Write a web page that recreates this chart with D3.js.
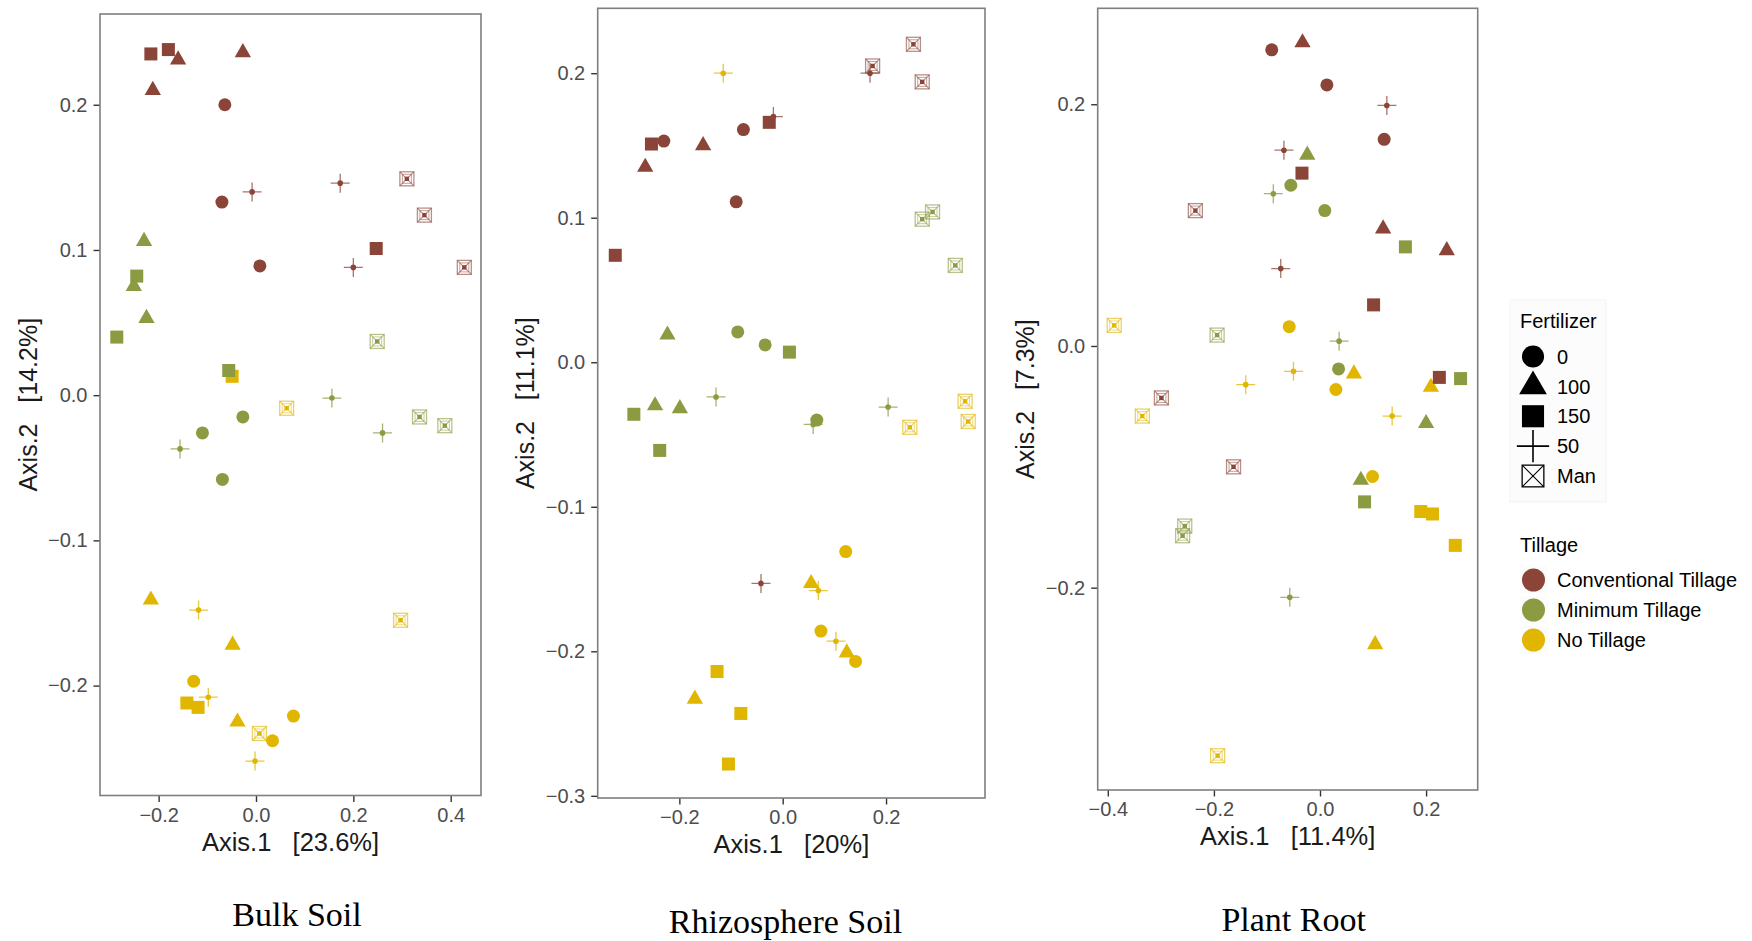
<!DOCTYPE html>
<html>
<head>
<meta charset="utf-8">
<title>PCoA: Bulk Soil, Rhizosphere Soil, Plant Root</title>
<script src="https://cdn.jsdelivr.net/npm/d3@7"></script>
<style>
  body { margin: 0; background: #fff; }
  svg { display: block; font-family: "Liberation Sans", Arial, sans-serif; }
  .tick text { fill: #4d4d4d; }
  .tick line { stroke: #333; }
</style>
</head>
<body>
<div id="chart"></div>
<script>
// categories
const tillages = ["CT", "MT", "NT"];
const tillageNames = ["Conventional Tillage", "Minimum Tillage", "No Tillage"];
const tillageColors = ["#8b4538", "#8b9b42", "#e0b600"];
const fertilizers = ["0", "100", "150", "50", "Man"];

// axis ticks
const bulkXTicks = [-0.2, 0, 0.2, 0.4];
const bulkYTicks = [-0.2, -0.1, 0, 0.1, 0.2];
const rhizoXTicks = [-0.2, 0, 0.2];
const rhizoYTicks = [-0.3, -0.2, -0.1, 0, 0.1, 0.2];
const rootXTicks = [-0.4, -0.2, 0, 0.2];
const rootYTicks = [-0.2, 0, 0.2];

// points: [tillage, fertilizer, Axis.1, Axis.2]
const bulkSoil = [
  ["NT","150",-0.049,0.013], ["NT","Man",0.063,-0.009], ["NT","100",-0.216,-0.141],
  ["NT","50",-0.118,-0.148], ["NT","100",-0.048,-0.172], ["NT","0",-0.128,-0.197],
  ["NT","150",-0.142,-0.212], ["NT","150",-0.119,-0.215], ["NT","50",-0.098,-0.208],
  ["NT","100",-0.038,-0.225], ["NT","0",0.077,-0.221], ["NT","Man",0.007,-0.233],
  ["NT","0",0.034,-0.238], ["NT","50",-0.002,-0.252], ["NT","Man",0.297,-0.155],
  ["CT","150",-0.216,0.235], ["CT","150",-0.180,0.238], ["CT","100",-0.160,0.231],
  ["CT","100",-0.027,0.236], ["CT","100",-0.212,0.210], ["CT","0",-0.064,0.200],
  ["CT","50",-0.008,0.140], ["CT","0",-0.070,0.133], ["CT","50",0.173,0.146],
  ["CT","Man",0.310,0.149], ["CT","Man",0.346,0.124], ["CT","150",0.247,0.101],
  ["CT","0",0.008,0.089], ["CT","50",0.200,0.088], ["CT","Man",0.428,0.088],
  ["MT","100",-0.230,0.106], ["MT","100",-0.251,0.075], ["MT","150",-0.245,0.082],
  ["MT","100",-0.225,0.053], ["MT","150",-0.286,0.040], ["MT","150",-0.056,0.017],
  ["MT","Man",0.249,0.037], ["MT","50",0.156,-0.002], ["MT","0",-0.027,-0.015],
  ["MT","0",-0.110,-0.026], ["MT","50",-0.156,-0.037], ["MT","0",-0.069,-0.058],
  ["MT","50",0.260,-0.026], ["MT","Man",0.336,-0.015], ["MT","Man",0.388,-0.021]
];

const rhizoSoil = [
  ["NT","50",-0.115,0.200], ["NT","Man",0.353,-0.027], ["NT","Man",0.359,-0.041],
  ["NT","Man",0.246,-0.045], ["NT","0",0.122,-0.131], ["NT","100",0.055,-0.153],
  ["NT","50",0.069,-0.158], ["NT","0",0.074,-0.186], ["NT","50",0.103,-0.193],
  ["NT","100",0.124,-0.201], ["NT","0",0.141,-0.207], ["NT","150",-0.127,-0.214],
  ["NT","100",-0.170,-0.233], ["NT","150",-0.081,-0.243], ["NT","150",-0.105,-0.278],
  ["CT","Man",0.174,0.205], ["CT","50",0.169,0.200], ["CT","Man",0.253,0.220],
  ["CT","Man",0.270,0.194], ["CT","150",-0.026,0.166], ["CT","50",-0.018,0.170],
  ["CT","0",-0.076,0.161], ["CT","150",-0.254,0.151], ["CT","0",-0.230,0.153],
  ["CT","100",-0.154,0.150], ["CT","100",-0.266,0.135], ["CT","0",-0.090,0.111],
  ["CT","150",-0.324,0.074], ["CT","50",-0.042,-0.153],
  ["MT","Man",0.270,0.099], ["MT","Man",0.290,0.104], ["MT","Man",0.334,0.067],
  ["MT","100",-0.223,0.019], ["MT","0",-0.087,0.021], ["MT","0",-0.034,0.012],
  ["MT","150",0.013,0.007], ["MT","50",-0.129,-0.024], ["MT","50",0.204,-0.031],
  ["MT","150",-0.288,-0.036], ["MT","100",-0.247,-0.030], ["MT","100",-0.199,-0.032],
  ["MT","0",0.066,-0.040], ["MT","50",0.059,-0.043], ["MT","150",-0.238,-0.061]
];

const plantRoot = [
  ["NT","Man",-0.388,0.017], ["NT","0",-0.058,0.016], ["NT","50",-0.050,-0.021],
  ["NT","50",-0.140,-0.032], ["NT","100",0.064,-0.023], ["NT","0",0.030,-0.036],
  ["NT","100",0.209,-0.034], ["NT","Man",-0.335,-0.058], ["NT","50",0.136,-0.058],
  ["NT","0",0.099,-0.108], ["NT","150",0.190,-0.137], ["NT","150",0.212,-0.139],
  ["NT","150",0.255,-0.165], ["NT","100",0.104,-0.247], ["NT","Man",-0.193,-0.339],
  ["CT","0",-0.091,0.245], ["CT","100",-0.033,0.251], ["CT","0",0.013,0.216],
  ["CT","50",0.126,0.199], ["CT","0",0.121,0.171], ["CT","50",-0.068,0.162],
  ["CT","150",-0.034,0.143], ["CT","Man",-0.235,0.112], ["CT","100",0.119,0.097],
  ["CT","100",0.239,0.079], ["CT","50",-0.074,0.064], ["CT","150",0.101,0.034],
  ["CT","150",0.225,-0.026], ["CT","Man",-0.299,-0.043], ["CT","Man",-0.163,-0.100],
  ["MT","100",-0.024,0.158], ["MT","0",-0.055,0.133], ["MT","50",-0.088,0.126],
  ["MT","0",0.009,0.112], ["MT","150",0.161,0.082], ["MT","Man",-0.194,0.009],
  ["MT","50",0.036,0.004], ["MT","0",0.035,-0.019], ["MT","150",0.265,-0.027],
  ["MT","100",0.200,-0.064], ["MT","100",0.077,-0.111], ["MT","150",0.084,-0.129],
  ["MT","Man",-0.255,-0.149], ["MT","Man",-0.259,-0.157], ["MT","50",-0.057,-0.208]
];

const W = 1752, H = 941;

const panels = [
  { title: "Bulk Soil", data: bulkSoil, xPct: "23.6%", yPct: "14.2%",
    xDomain: [-0.3205, 0.4623], yDomain: [-0.2757, 0.2625],
    xTicks: bulkXTicks, yTicks: bulkYTicks,
    box: { x0: 100, y0: 14, x1: 481, y1: 795.5 }, titleX: 297, titleY: 926 },
  { title: "Rhizosphere Soil", data: rhizoSoil, xPct: "20%", yPct: "11.1%",
    xDomain: [-0.358, 0.3915], yDomain: [-0.3015, 0.2449],
    xTicks: rhizoXTicks, yTicks: rhizoYTicks,
    box: { x0: 597.7, y0: 8.3, x1: 985, y1: 798 }, titleX: 785.5, titleY: 933 },
  { title: "Plant Root", data: plantRoot, xPct: "11.4%", yPct: "7.3%",
    xDomain: [-0.4191, 0.2973], yDomain: [-0.3674, 0.2794],
    xTicks: rootXTicks, yTicks: rootYTicks,
    box: { x0: 1097.7, y0: 8.3, x1: 1477.7, y1: 790 }, titleX: 1293.7, titleY: 931 }
];

const color = d3.scaleOrdinal().domain(tillages).range(tillageColors);
const fmt = d3.format(".1f");

const svg = d3.select("#chart").append("svg")
  .attr("width", W).attr("height", H)
  .attr("viewBox", `0 0 ${W} ${H}`);

svg.append("rect").attr("width", W).attr("height", H).attr("fill", "#fff");

// draw one marker shape at the origin of group g
function drawShape(g, fert, col, s) {
  // s = 1 for plot points, larger for the legend
  if (fert === "0") {
    g.append("circle").attr("r", 6.5 * s).attr("fill", col);
  } else if (fert === "100") {
    g.append("path").attr("d", d3.symbol(d3.symbolTriangle, 115 * s * s)()).attr("fill", col);
  } else if (fert === "150") {
    g.append("rect").attr("x", -6.5 * s).attr("y", -6.5 * s)
      .attr("width", 13 * s).attr("height", 13 * s).attr("fill", col);
  } else if (fert === "50") {
    const a = 9.5 * s;
    g.append("path").attr("d", `M${-a},0H${a}M0,${-a}V${a}`)
      .attr("stroke", col).attr("stroke-width", s > 1 ? 1.6 : 1.3)
      .attr("stroke-opacity", s > 1 ? 1 : 0.75);
    if (s === 1) g.append("circle").attr("r", 2.8).attr("fill", col);
  } else {
    const a = 7 * s;
    const op = s > 1 ? 1 : 0.6;
    g.append("rect").attr("x", -a).attr("y", -a).attr("width", 2 * a).attr("height", 2 * a)
      .attr("fill", "none").attr("stroke", col).attr("stroke-width", 1.3).attr("stroke-opacity", op);
    g.append("path").attr("d", `M${-a},${-a}L${a},${a}M${a},${-a}L${-a},${a}`)
      .attr("stroke", col).attr("stroke-width", 1.1).attr("stroke-opacity", op);
    if (s === 1) {
      g.append("rect").attr("x", -4.5).attr("y", -4.5).attr("width", 9).attr("height", 9)
        .attr("fill", "none").attr("stroke", col).attr("stroke-width", 1).attr("stroke-opacity", 0.5);
      g.append("rect").attr("x", -2.2).attr("y", -2.2).attr("width", 4.4).attr("height", 4.4)
        .attr("fill", col);
    }
  }
}

panels.forEach(p => {
  const b = p.box;
  const x = d3.scaleLinear().domain(p.xDomain).range([b.x0, b.x1]);
  const y = d3.scaleLinear().domain(p.yDomain).range([b.y1, b.y0]);
  const g = svg.append("g");

  // axes
  const xa = g.append("g").attr("transform", `translate(0,${b.y1})`)
    .call(d3.axisBottom(x).tickValues(p.xTicks).tickFormat(fmt).tickSize(6.5).tickPadding(5.5));
  const ya = g.append("g").attr("transform", `translate(${b.x0},0)`)
    .call(d3.axisLeft(y).tickValues(p.yTicks).tickFormat(fmt).tickSize(6.5).tickPadding(6));
  [xa, ya].forEach(a => {
    a.select(".domain").remove();
    a.selectAll(".tick line").attr("stroke-width", 1.4);
    a.selectAll("text").attr("font-size", 20).attr("font-family", "Liberation Sans, Arial, sans-serif");
  });

  // points
  g.selectAll(".pt").data(p.data).join("g")
    .attr("class", "pt")
    .attr("transform", d => `translate(${x(d[2])},${y(d[3])})`)
    .each(function (d) { drawShape(d3.select(this), d[1], color(d[0]), 1); });

  // panel border
  g.append("rect").attr("x", b.x0).attr("y", b.y0)
    .attr("width", b.x1 - b.x0).attr("height", b.y1 - b.y0)
    .attr("fill", "none").attr("stroke", "#7f7f7f").attr("stroke-width", 1.6);

  // axis titles
  g.append("text").attr("x", (b.x0 + b.x1) / 2).attr("y", b.y1 + 55)
    .attr("text-anchor", "middle").attr("font-size", 25.5).attr("fill", "#1a1a1a")
    .style("white-space", "pre")
    .text(`Axis.1   [${p.xPct}]`);
  g.append("text")
    .attr("transform", `translate(${b.x0 - 72},${(b.y0 + b.y1) / 2}) rotate(-90)`)
    .attr("dy", "0.35em")
    .attr("text-anchor", "middle").attr("font-size", 25).attr("fill", "#1a1a1a")
    .style("white-space", "pre")
    .text(`Axis.2   [${p.yPct}]`);

  // panel caption
  g.append("text").attr("x", p.titleX).attr("y", p.titleY)
    .attr("text-anchor", "middle")
    .attr("font-family", "Liberation Serif, Times New Roman, serif")
    .attr("font-size", 34).attr("fill", "#000")
    .text(p.title);
});

// legends
const lg = svg.append("g");
lg.append("rect").attr("x", 1510).attr("y", 300).attr("width", 96).attr("height", 202)
  .attr("fill", "#fcfcfc").attr("stroke", "#f3f3f3");
lg.append("text").attr("x", 1520).attr("y", 328).attr("font-size", 20).attr("fill", "#000")
  .text("Fertilizer");
const fertY = d3.scalePoint().domain(fertilizers).range([356.5, 476]);
fertilizers.forEach(f => {
  const item = lg.append("g").attr("transform", `translate(1533,${fertY(f)})`);
  drawShape(item, f, "#000", f === "Man" ? 1.55 : 1.7);
  lg.append("text").attr("x", 1557).attr("y", fertY(f)).attr("dy", "0.36em")
    .attr("font-size", 20).attr("fill", "#000").text(f);
});

lg.append("text").attr("x", 1520).attr("y", 552).attr("font-size", 20).attr("fill", "#000")
  .text("Tillage");
const tillY = d3.scalePoint().domain(tillages).range([580, 640]);
tillages.forEach((t, i) => {
  lg.append("rect").attr("x", 1520).attr("y", tillY(t) - 14).attr("width", 28).attr("height", 28)
    .attr("fill", "#fcfcfc");
  lg.append("circle").attr("cx", 1533.5).attr("cy", tillY(t)).attr("r", 11.5)
    .attr("fill", color(t));
  lg.append("text").attr("x", 1557).attr("y", tillY(t)).attr("dy", "0.36em")
    .attr("font-size", 20).attr("fill", "#000").text(tillageNames[i]);
});
</script>
</body>
</html>
